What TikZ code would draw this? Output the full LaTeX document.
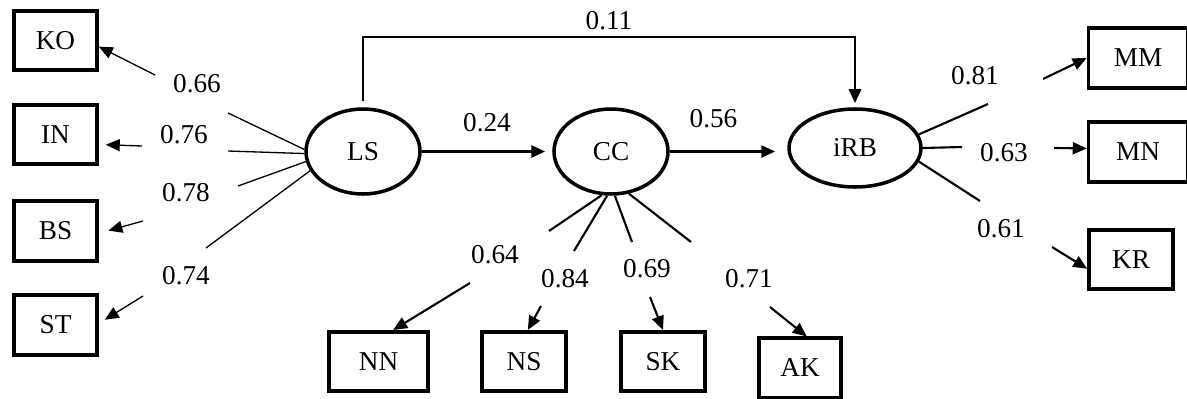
\documentclass[tikz,border=0pt]{standalone}
\usepackage{fontspec}
\setmainfont{Liberation Serif}
\usepackage{tikz}
\usetikzlibrary{shapes.geometric,arrows.meta}
\tikzset{
	box/.style={draw,rectangle,line width=2pt,minimum width=1.66cm,minimum height=1.19cm,inner sep=0pt},
	lat/.style={draw,ellipse,line width=2pt,minimum width=2.28cm,minimum height=1.7cm,inner sep=0pt},
	tip/.style={-{Triangle[length=0.28cm,width=0.24cm]}},
	main/.style={tip,line width=1.6pt},
	ldl/.style={line width=0.75pt},
	ld/.style={line width=1.2pt}
}

\begin{document}
\begin{tikzpicture}[font=\fontsize{15.5}{18}\selectfont]
	\useasboundingbox (0,0) rectangle (23.74,7.96);
	% LS side
	\draw (1.11,7.15) node(vKO) [box] {KO};
	\draw (1.11,5.27) node(vIN) [box] {IN};
	\draw (1.11,3.34) node(vBS) [box] {BS};
	\draw (1.11,1.46) node(vST) [box] {ST};
	\draw (7.26,4.93) node(vLS) [lat] {LS};
	\draw (12.22,4.93) node(vCC) [lat] {CC};
	\draw (17.10,5.00) node(vRB) [lat,minimum width=2.64cm,minimum height=1.56cm] {iRB};
	% CC side
	\draw (7.57,0.73) node(vNN) [box,minimum width=1.98cm] {NN};
	\draw (10.48,0.73) node(vNS) [box,minimum width=1.68cm] {NS};
	\draw (13.26,0.73) node(vSK) [box,minimum width=1.68cm] {SK};
	\draw (16.00,0.60) node(vAK) [box,minimum width=1.64cm] {AK};
	% iRB side
	\draw (22.76,6.80) node(vMM) [box,minimum width=1.98cm] {MM};
	\draw (22.76,4.92) node(vMN) [box,minimum width=1.98cm] {MN};
	\draw (22.62,2.77) node(vKR) [box,minimum width=1.68cm] {KR};
	\draw (4.56,5.70) coordinate(v101);
	\draw (3.10,6.46) coordinate(v102);
	\draw (4.56,4.94) coordinate(v103);
	\draw (2.84,5.04) coordinate(v104);
	\draw (4.76,4.24) coordinate(v105);
	\draw (2.86,3.54) coordinate(v106);
	\draw (4.12,3.00) coordinate(v107);
	\draw (2.86,2.04) coordinate(v108);
	\draw (10.98,3.34) coordinate(v109);
	\draw (9.40,2.30) coordinate(v110);
	\draw (11.48,2.94) coordinate(v111);
	\draw (10.82,1.84) coordinate(v112);
	\draw (12.64,3.12) coordinate(v113);
	\draw (13.00,2.02) coordinate(v114);
	\draw (13.82,3.12) coordinate(v115);
	\draw (15.40,1.82) coordinate(v116);
	\draw (19.76,5.88) coordinate(v117);
	\draw (20.86,6.38) coordinate(v118);
	\draw (19.24,5.02) coordinate(v119);
	\draw (21.08,5.00) coordinate(v120);
	\draw (19.60,3.94) coordinate(v121);
	\draw (21.04,3.02) coordinate(v122);
	\draw (7.26,7.22) coordinate(v123);
	% paths
	\path[draw,main,shorten <=0.12cm,shorten >=0.08cm] (vLS.north) -- (v123) -| node(v301) [pos=0.25,above] {0.11} (vRB.north);
	\path[draw,main,shorten >=0.14cm] (vLS) -- node(v302) [above=0.24cm] {0.24} (vCC);
	\path[draw,main,shorten >=0.24cm] (vCC.east) -- node(v303) [above=0.32cm,xshift=-0.3cm] {0.56} (vCC.east -| vRB.west);
	% loadings LS
	\path[draw,ldl] (vLS.178) -- (v101);
	\path[draw,ldl,tip] (v102) -- (vKO.-8);
	\path[draw,ldl] (vLS.182) -- (v103);
	\path[draw,ldl,tip,shorten >=0.14cm] (v104) -- (vIN.-13);
	\path[draw,ldl] (vLS.190) -- (v105);
	\path[draw,ldl,tip,shorten >=0.2cm] (v106) -- (vBS.-3);
	\path[draw,ldl] (vLS.200) -- (v107);
	\path[draw,ldl,tip,shorten >=0.14cm] (v108) -- (vST.2);
	\draw (3.94,6.28) node(v201) {0.66};
	\draw (3.68,5.26) node(v202) {0.76};
	\draw (3.72,4.10) node(v203) {0.78};
	\draw (3.72,2.44) node(v204) {0.74};
	% loadings CC
	\path[draw,ld] (vCC.258) -- (v109);
	\path[draw,ld,tip] (v110) -- (vNN.65);
	\path[draw,ld] (vCC.265) -- (v111);
	\path[draw,ld,tip] (v112) -- (vNS.83);
	\path[draw,ld] (vCC.275) -- (v113);
	\path[draw,ld,tip] (v114) -- (vSK.north);
	\path[draw,ld] (vCC.293) -- (v115);
	\path[draw,ld,tip] (v116) -- (vAK.78);
	\draw (9.90,2.86) node(v205) {0.64};
	\draw (11.30,2.38) node(v206) {0.84};
	\draw (12.94,2.58) node(v207) {0.69};
	\draw (14.98,2.38) node(v208) {0.71};
	% loadings iRB
	\path[draw,ld] (vRB.12) -- (v117);
	\path[draw,ld,tip] (v118) -- (vMM.west);
	\path[draw,ld] (vRB.east) -- (v119);
	\path[draw,ld,tip] (v120) -- (vMN.176);
	\path[draw,ld] (vRB.-12) -- (v121);
	\path[draw,ld,tip] (v122) -- (vKR.192);
	\draw (19.50,6.44) node(v209) {0.81};
	\draw (20.08,4.90) node(v210) {0.63};
	\draw (20.02,3.38) node(v211) {0.61};
\end{tikzpicture}
\end{document}
